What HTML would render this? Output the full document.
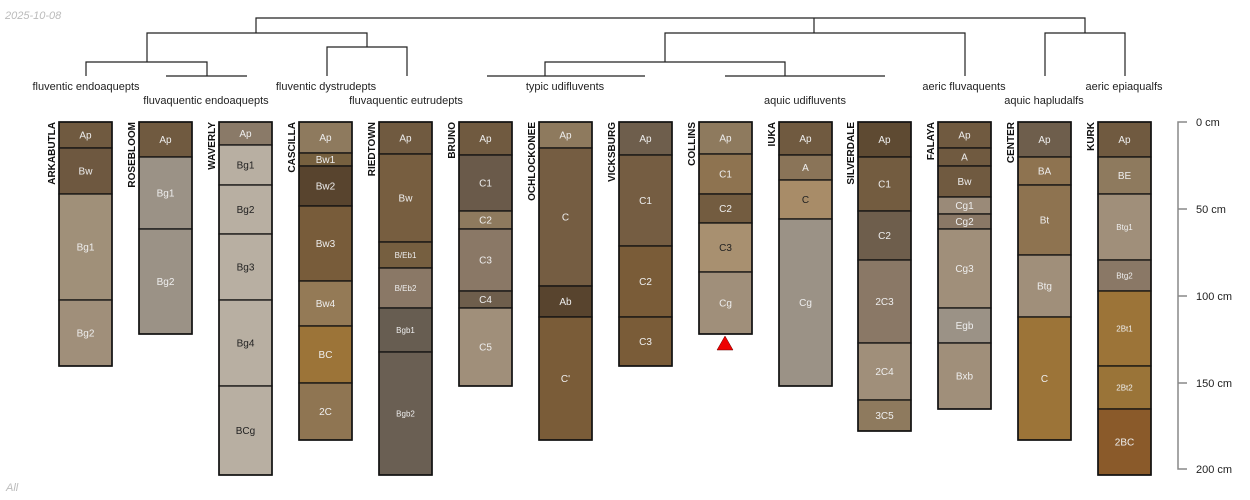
<!DOCTYPE html>
<html><head><meta charset="utf-8"><style>html,body{margin:0;padding:0;background:#fff}svg{display:block}
.h rect{stroke:#111;stroke-width:1.3}
.h text{font-size:10px;fill:#eee;text-anchor:middle}
.h text.d{fill:#222}
.h text.s{font-size:8px}
.n text{font-size:10px;font-weight:bold;fill:#111;text-anchor:end}
</style></head>
<body>
<svg width="1250" height="500" viewBox="0 0 1250 500" xmlns="http://www.w3.org/2000/svg" font-family="Liberation Sans, sans-serif">
<text x="5" y="19" font-size="11" font-style="italic" fill="#bbb">2025-10-08</text>
<text x="6" y="491" font-size="11" font-style="italic" fill="#bbb">All</text>
<g stroke="#222" stroke-width="1.2" fill="none">
<path d="M256 33V18H1085V33M814 18V33"/>
<path d="M147 62V33H367V47M327 76V47H407V76"/>
<path d="M86 76V62H207V76M166 76H247"/>
<path d="M665 62V33H965V76M545 76V62H785V76M487 76H645M725 76H885"/>
<path d="M1045 76V33H1125V76"/>
</g>
<g font-size="11" fill="#222" text-anchor="middle">
<text x="86" y="90">fluventic endoaquepts</text>
<text x="206" y="104">fluvaquentic endoaquepts</text>
<text x="326" y="90">fluventic dystrudepts</text>
<text x="406" y="104">fluvaquentic eutrudepts</text>
<text x="565" y="90">typic udifluvents</text>
<text x="805" y="104">aquic udifluvents</text>
<text x="964" y="90">aeric fluvaquents</text>
<text x="1044" y="104">aquic hapludalfs</text>
<text x="1124" y="90">aeric epiaqualfs</text>
</g>
<g stroke="#888" stroke-width="1.5" fill="none"><path d="M1187 122H1178V469H1187M1178 209H1187M1178 296H1187M1178 383H1187"/></g>
<g font-size="11" fill="#222">
<text x="1196" y="126">0 cm</text><text x="1196" y="213">50 cm</text><text x="1196" y="300">100 cm</text><text x="1196" y="387">150 cm</text><text x="1196" y="473">200 cm</text>
</g>

<g class="n">
<text transform="translate(55,122) rotate(-90)">ARKABUTLA</text>
<text transform="translate(135,122) rotate(-90)">ROSEBLOOM</text>
<text transform="translate(215,122) rotate(-90)">WAVERLY</text>
<text transform="translate(295,122) rotate(-90)">CASCILLA</text>
<text transform="translate(375,122) rotate(-90)">RIEDTOWN</text>
<text transform="translate(455,122) rotate(-90)">BRUNO</text>
<text transform="translate(535,122) rotate(-90)">OCHLOCKONEE</text>
<text transform="translate(615,122) rotate(-90)">VICKSBURG</text>
<text transform="translate(695,122) rotate(-90)">COLLINS</text>
<text transform="translate(775,122) rotate(-90)">IUKA</text>
<text transform="translate(854,122) rotate(-90)">SILVERDALE</text>
<text transform="translate(934,122) rotate(-90)">FALAYA</text>
<text transform="translate(1014,122) rotate(-90)">CENTER</text>
<text transform="translate(1094,122) rotate(-90)">KURK</text>
</g>

<g class="h">
<rect x="59" y="122" width="53" height="26" fill="#705a40"/><text x="85.5" y="138.5">Ap</text>
<rect x="59" y="148" width="53" height="46" fill="#6e5840"/><text x="85.5" y="174.5">Bw</text>
<rect x="59" y="194" width="53" height="106" fill="#a09079"/><text x="85.5" y="250.5">Bg1</text>
<rect x="59" y="300" width="53" height="66" fill="#a08f7a"/><text x="85.5" y="336.5">Bg2</text>
<rect x="139" y="122" width="53" height="35" fill="#705a40"/><text x="165.5" y="143">Ap</text>
<rect x="139" y="157" width="53" height="72" fill="#9b9286"/><text x="165.5" y="196.5">Bg1</text>
<rect x="139" y="229" width="53" height="105" fill="#9b9286"/><text x="165.5" y="285">Bg2</text>
<rect x="219" y="122" width="53" height="23" fill="#8a7a68"/><text x="245.5" y="137">Ap</text>
<rect x="219" y="145" width="53" height="40" fill="#b8afa2"/><text class="d" x="245.5" y="168.5">Bg1</text>
<rect x="219" y="185" width="53" height="49" fill="#b8afa2"/><text class="d" x="245.5" y="213">Bg2</text>
<rect x="219" y="234" width="53" height="66" fill="#b8afa2"/><text class="d" x="245.5" y="270.5">Bg3</text>
<rect x="219" y="300" width="53" height="86" fill="#b8afa2"/><text class="d" x="245.5" y="346.5">Bg4</text>
<rect x="219" y="386" width="53" height="89" fill="#b8afa2"/><text class="d" x="245.5" y="434">BCg</text>
<rect x="299" y="122" width="53" height="31" fill="#8e7a5e"/><text x="325.5" y="141">Ap</text>
<rect x="299" y="153" width="53" height="13" fill="#76603f"/><text x="325.5" y="163">Bw1</text>
<rect x="299" y="166" width="53" height="40" fill="#58442e"/><text x="325.5" y="189.5">Bw2</text>
<rect x="299" y="206" width="53" height="75" fill="#785c3a"/><text x="325.5" y="247">Bw3</text>
<rect x="299" y="281" width="53" height="45" fill="#947a56"/><text x="325.5" y="307">Bw4</text>
<rect x="299" y="326" width="53" height="57" fill="#9c7438"/><text x="325.5" y="358">BC</text>
<rect x="299" y="383" width="53" height="57" fill="#8f7552"/><text x="325.5" y="415">2C</text>
<rect x="379" y="122" width="53" height="32" fill="#705a40"/><text x="405.5" y="141.5">Ap</text>
<rect x="379" y="154" width="53" height="88" fill="#775e40"/><text x="405.5" y="201.5">Bw</text>
<rect x="379" y="242" width="53" height="26" fill="#765f40"/><text class="s" x="405.5" y="258">B/Eb1</text>
<rect x="379" y="268" width="53" height="40" fill="#8a7866"/><text class="s" x="405.5" y="291">B/Eb2</text>
<rect x="379" y="308" width="53" height="44" fill="#675d51"/><text class="s" x="405.5" y="333">Bgb1</text>
<rect x="379" y="352" width="53" height="123" fill="#6a5f53"/><text class="s" x="405.5" y="416.5">Bgb2</text>
<rect x="459" y="122" width="53" height="33" fill="#705a40"/><text x="485.5" y="142">Ap</text>
<rect x="459" y="155" width="53" height="56" fill="#6a5a4a"/><text x="485.5" y="186.5">C1</text>
<rect x="459" y="211" width="53" height="18" fill="#8e7a5e"/><text x="485.5" y="223.5">C2</text>
<rect x="459" y="229" width="53" height="62" fill="#8a7866"/><text x="485.5" y="263.5">C3</text>
<rect x="459" y="291" width="53" height="17" fill="#6e5e4c"/><text x="485.5" y="303">C4</text>
<rect x="459" y="308" width="53" height="78" fill="#a08f7a"/><text x="485.5" y="350.5">C5</text>
<rect x="539" y="122" width="53" height="26" fill="#8e7a5e"/><text x="565.5" y="138.5">Ap</text>
<rect x="539" y="148" width="53" height="138" fill="#755d42"/><text x="565.5" y="220.5">C</text>
<rect x="539" y="286" width="53" height="31" fill="#58442e"/><text x="565.5" y="305">Ab</text>
<rect x="539" y="317" width="53" height="123" fill="#7a5c38"/><text x="565.5" y="382">C'</text>
<rect x="619" y="122" width="53" height="33" fill="#6e5e4c"/><text x="645.5" y="142">Ap</text>
<rect x="619" y="155" width="53" height="91" fill="#755d42"/><text x="645.5" y="204">C1</text>
<rect x="619" y="246" width="53" height="71" fill="#7a5c38"/><text x="645.5" y="285">C2</text>
<rect x="619" y="317" width="53" height="49" fill="#7a5c38"/><text x="645.5" y="345">C3</text>
<rect x="699" y="122" width="53" height="32" fill="#8e7a5e"/><text x="725.5" y="141.5">Ap</text>
<rect x="699" y="154" width="53" height="40" fill="#8e7350"/><text x="725.5" y="177.5">C1</text>
<rect x="699" y="194" width="53" height="29" fill="#735c40"/><text x="725.5" y="212">C2</text>
<rect x="699" y="223" width="53" height="49" fill="#a89070"/><text class="d" x="725.5" y="251">C3</text>
<rect x="699" y="272" width="53" height="62" fill="#a08f7a"/><text x="725.5" y="306.5">Cg</text>
<rect x="779" y="122" width="53" height="33" fill="#705a40"/><text x="805.5" y="142">Ap</text>
<rect x="779" y="155" width="53" height="25" fill="#8a7458"/><text x="805.5" y="171">A</text>
<rect x="779" y="180" width="53" height="39" fill="#a88c68"/><text class="d" x="805.5" y="203">C</text>
<rect x="779" y="219" width="53" height="167" fill="#9b9286"/><text x="805.5" y="306">Cg</text>
<rect x="858" y="122" width="53" height="35" fill="#5e4a32"/><text x="884.5" y="143">Ap</text>
<rect x="858" y="157" width="53" height="54" fill="#735c40"/><text x="884.5" y="187.5">C1</text>
<rect x="858" y="211" width="53" height="49" fill="#6e5e4c"/><text x="884.5" y="239">C2</text>
<rect x="858" y="260" width="53" height="83" fill="#8a7866"/><text x="884.5" y="305">2C3</text>
<rect x="858" y="343" width="53" height="57" fill="#a08f7a"/><text x="884.5" y="375">2C4</text>
<rect x="858" y="400" width="53" height="31" fill="#8e7a5e"/><text x="884.5" y="419">3C5</text>
<rect x="938" y="122" width="53" height="26" fill="#705a40"/><text x="964.5" y="138.5">Ap</text>
<rect x="938" y="148" width="53" height="18" fill="#705a40"/><text x="964.5" y="160.5">A</text>
<rect x="938" y="166" width="53" height="31" fill="#705a40"/><text x="964.5" y="185">Bw</text>
<rect x="938" y="197" width="53" height="17" fill="#9a8a78"/><text x="964.5" y="209">Cg1</text>
<rect x="938" y="214" width="53" height="15" fill="#8a7866"/><text x="964.5" y="225">Cg2</text>
<rect x="938" y="229" width="53" height="79" fill="#a08f7a"/><text x="964.5" y="272">Cg3</text>
<rect x="938" y="308" width="53" height="35" fill="#9b9286"/><text x="964.5" y="329">Egb</text>
<rect x="938" y="343" width="53" height="66" fill="#a08f7a"/><text x="964.5" y="379.5">Bxb</text>
<rect x="1018" y="122" width="53" height="35" fill="#6e5e4c"/><text x="1044.5" y="143">Ap</text>
<rect x="1018" y="157" width="53" height="28" fill="#8e7350"/><text x="1044.5" y="174.5">BA</text>
<rect x="1018" y="185" width="53" height="70" fill="#8e7350"/><text x="1044.5" y="223.5">Bt</text>
<rect x="1018" y="255" width="53" height="62" fill="#a08f7a"/><text x="1044.5" y="289.5">Btg</text>
<rect x="1018" y="317" width="53" height="123" fill="#9c7438"/><text x="1044.5" y="382">C</text>
<rect x="1098" y="122" width="53" height="35" fill="#705a40"/><text x="1124.5" y="143">Ap</text>
<rect x="1098" y="157" width="53" height="37" fill="#8e7a5e"/><text x="1124.5" y="179">BE</text>
<rect x="1098" y="194" width="53" height="66" fill="#a08f7a"/><text class="s" x="1124.5" y="230">Btg1</text>
<rect x="1098" y="260" width="53" height="31" fill="#8a7866"/><text class="s" x="1124.5" y="278.5">Btg2</text>
<rect x="1098" y="291" width="53" height="75" fill="#9c7438"/><text class="s" x="1124.5" y="331.5">2Bt1</text>
<rect x="1098" y="366" width="53" height="43" fill="#9a7438"/><text class="s" x="1124.5" y="390.5">2Bt2</text>
<rect x="1098" y="409" width="53" height="66" fill="#8a5a2a"/><text x="1124.5" y="445.5">2BC</text>
</g>

<g fill="none" stroke="#111" stroke-width="1.6">
<rect x="59" y="122" width="53" height="244"/>
<rect x="139" y="122" width="53" height="212"/>
<rect x="219" y="122" width="53" height="353"/>
<rect x="299" y="122" width="53" height="318"/>
<rect x="379" y="122" width="53" height="353"/>
<rect x="459" y="122" width="53" height="264"/>
<rect x="539" y="122" width="53" height="318"/>
<rect x="619" y="122" width="53" height="244"/>
<rect x="699" y="122" width="53" height="212"/>
<rect x="779" y="122" width="53" height="264"/>
<rect x="858" y="122" width="53" height="309"/>
<rect x="938" y="122" width="53" height="287"/>
<rect x="1018" y="122" width="53" height="318"/>
<rect x="1098" y="122" width="53" height="353"/>
</g>
<polygon points="725,336 717,350 733,350" fill="#e00" stroke="#600" stroke-width="0.5"/>
</svg>
</body></html>
